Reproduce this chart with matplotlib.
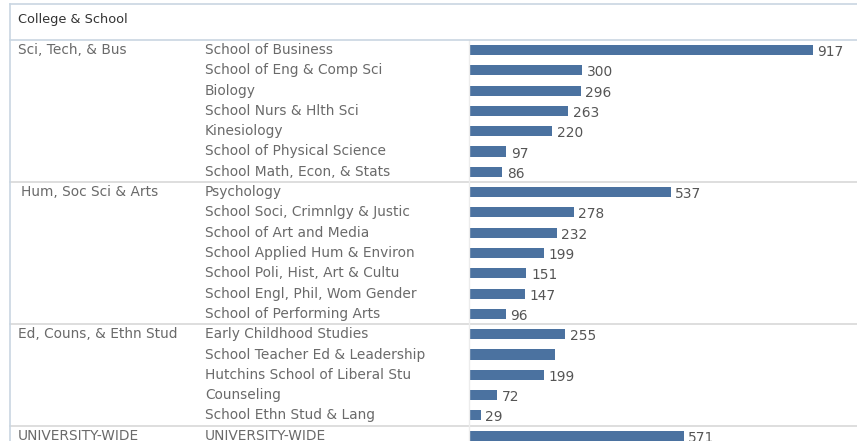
import matplotlib
matplotlib.use("Agg")
import matplotlib.pyplot as plt
from matplotlib.lines import Line2D
from matplotlib.transforms import blended_transform_factory

# data
groups = ["Sci, Tech, & Bus", "Hum, Soc Sci & Arts", "Ed, Couns, & Ethn Stud", "UNIVERSITY-WIDE"]
group_sizes = [7, 7, 5, 1]
schools = [
    "School of Business", "School of Eng & Comp Sci", "Biology", "School Nurs & Hlth Sci",
    "Kinesiology", "School of Physical Science", "School Math, Econ, & Stats",
    "Psychology", "School Soci, Crimnlgy & Justic", "School of Art and Media",
    "School Applied Hum & Environ", "School Poli, Hist, Art & Cultu",
    "School Engl, Phil, Wom Gender", "School of Performing Arts",
    "Early Childhood Studies", "School Teacher Ed & Leadership",
    "Hutchins School of Liberal Stu", "Counseling", "School Ethn Stud & Lang",
    "UNIVERSITY-WIDE",
]
values = [917, 300, 296, 263, 220, 97, 86,
          537, 278, 232, 199, 151, 147, 96,
          255, 228, 199, 72, 29,
          571]
# the reference shows no label on the Teacher Ed bar
show_label = [True] * len(values)
show_label[15] = False

W, H = 857, 441
fig = plt.figure(figsize=(W / 100, H / 100), dpi=100)
plt.rcParams['font.family'] = ['DejaVu Sans']
fs = 9.9

row_h = 20.3
y0 = 50  # pixel centre of first row
top_px = 40
ylim_top = (top_px - y0) / row_h
ylim_bot = (H - y0) / row_h

bar_left = 470
ax = fig.add_axes([0, 0, 1, 1 - top_px / H])
ax.set_xlim(-bar_left / 0.374, (W - bar_left) / 0.374)
ax.set_ylim(ylim_bot, ylim_top)
ax.axis("off")

idx = list(range(len(values)))
ax.barh(idx, values, height=0.5, color="#4b72a0", left=0)

for i, v in enumerate(values):
    if show_label[i]:
        ax.text(v + 12, i + 0.1, str(v), va="center", ha="left", fontsize=fs, color="#555555")

tr = blended_transform_factory(fig.transFigure, ax.transData)
for i, s in enumerate(schools):
    ax.text(205 / W, i, s, transform=tr, va="center", ha="left", fontsize=fs, color="#6a6a6a")

start = 0
for g, n in zip(groups, group_sizes):
    x = 18 / W if g != groups[1] else 21 / W
    ax.text(x, start, g, transform=tr, va="center", ha="left", fontsize=fs, color="#6a6a6a")
    if start > 0:
        ax.add_line(Line2D([10 / W, 1], [start - 0.5, start - 0.5], transform=tr,
                           color="#d8d8d8", lw=1.2, clip_on=False))
    start += n

# faint axis line
ax.add_line(Line2D([469 / W, 469 / W], [ylim_top, ylim_bot], transform=tr,
                   color="#ececec", lw=1, clip_on=False))

# header and border
fig.text(18 / W, 1 - 20 / H, "College & School", ha="left", va="center",
         fontsize=9.3, color="#333333")
border = "#c9d6e2"
fig.add_artist(Line2D([10 / W, 1], [1 - 4 / H, 1 - 4 / H], color=border, lw=1.2))
fig.add_artist(Line2D([10 / W, 1], [1 - 40 / H, 1 - 40 / H], color=border, lw=1.2))
fig.add_artist(Line2D([10 / W, 10 / W], [0, 1 - 4 / H], color=border, lw=1.2))

fig.savefig("out.png", dpi=100)
